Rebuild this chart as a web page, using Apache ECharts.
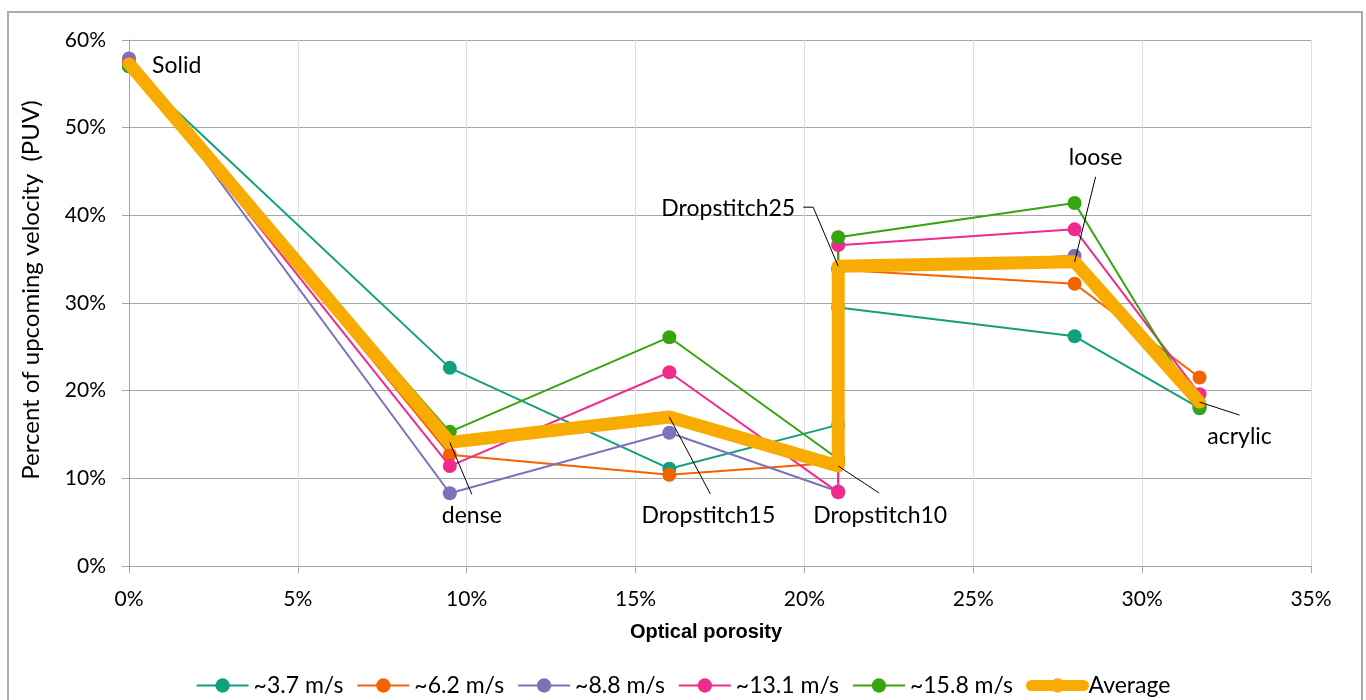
<!DOCTYPE html>
<html>
<head>
<meta charset="utf-8">
<script src="https://cdn.jsdelivr.net/npm/echarts@6.0.0/dist/echarts.min.js"></script>
<style>
  html, body { margin: 0; padding: 0; background: #fff; }
  #chart { width: 1366px; height: 700px; }
</style>
</head>
<body>
<div id="chart"></div>
<script>
// materials, in the order they are joined by each line
var materials = ['Solid', 'dense', 'Dropstitch15', 'Dropstitch10', 'Dropstitch25', 'loose', 'acrylic'];
// optical porosity (%)
var porosity = [0, 9.5, 16, 21, 21, 28, 31.7];

// percent of upcoming velocity (%) per wind speed
var puv37 = [57.0, 22.6, 11.1, 16.1, 29.5, 26.2, 18.0];
var puv62 = [57.4, 12.7, 10.4, 11.8, 33.8, 32.2, 21.5];
var puv88 = [57.9, 8.3, 15.2, 8.5, 34.0, 35.4, 18.4];
var puv131 = [57.3, 11.4, 22.1, 8.4, 36.6, 38.4, 19.6];
var puv158 = [57.0, 15.3, 26.1, 12.2, 37.5, 41.4, 18.1];
var puvAvg = [57.3, 14.1, 17.0, 11.4, 34.2, 34.7, 18.7];

var seriesNames = ['~3.7 m/s', '~6.2 m/s', '~8.8 m/s', '~13.1 m/s', '~15.8 m/s', 'Average'];
var xTicks = [0, 5, 10, 15, 20, 25, 30, 35];
var yTicks = [0, 10, 20, 30, 40, 50, 60];

var colors = ['#11a07d', '#f46300', '#7d72b9', '#f02b8c', '#35a40e', '#f8ab00'];
var font = 'Lato, "Open Sans", sans-serif';

function pairs(ys) {
  return ys.map(function (y, i) { return [porosity[i], y]; });
}

var chart = echarts.init(document.getElementById('chart'));

function speedSeries(name, ys, color) {
  return {
    name: name,
    type: 'line',
    data: pairs(ys),
    color: color,
    symbol: 'circle',
    symbolSize: 14,
    lineStyle: { width: 2, color: color },
    itemStyle: { color: color }
  };
}

var option = {
  animation: false,
  backgroundColor: '#fff',
  textStyle: { fontFamily: font },
  grid: { left: 129, right: 55, top: 40, bottom: 134, containLabel: false },
  xAxis: {
    type: 'value',
    min: xTicks[0],
    max: xTicks[xTicks.length - 1],
    interval: 5,
    name: 'Optical porosity',
    nameLocation: 'middle',
    nameGap: 56,
    nameTextStyle: {
      fontFamily: '"Liberation Sans", Arial, sans-serif',
      fontWeight: 'bold',
      fontSize: 20,
      color: '#000',
      padding: [0, 28, 0, 0]
    },
    axisLine: { show: true, lineStyle: { color: '#a6a6a6', width: 1 } },
    axisTick: { show: true, length: 7, lineStyle: { color: '#a6a6a6' } },
    axisLabel: { formatter: '{value}%', fontSize: 21, color: '#000', margin: 23 },
    splitLine: { show: true, lineStyle: { color: '#dedede', width: 1 } }
  },
  yAxis: {
    type: 'value',
    min: yTicks[0],
    max: yTicks[yTicks.length - 1],
    interval: 10,
    name: 'Percent of upcoming velocity  (PUV)',
    nameLocation: 'middle',
    nameGap: 86,
    nameTextStyle: { fontSize: 24, color: '#000', padding: [0, 0, 0, 26] },
    axisLine: { show: true, lineStyle: { color: '#a6a6a6', width: 1 } },
    axisTick: { show: true, length: 7, lineStyle: { color: '#a6a6a6' } },
    axisLabel: { formatter: '{value}%', fontSize: 21, color: '#000', margin: 23 },
    splitLine: { show: true, lineStyle: { color: '#a6a6a6', width: 1 } }
  },
  legend: {
    left: 'center',
    top: 669,
    itemWidth: 52,
    itemHeight: 18,
    itemGap: 13,
    textStyle: { fontSize: 23, color: '#000' },
    data: seriesNames.map(function (n, i) {
      return i === 5 ? { name: n, lineStyle: { width: 11, cap: 'round' } } : { name: n };
    })
  },
  series: [
    speedSeries(seriesNames[0], puv37, colors[0]),
    speedSeries(seriesNames[1], puv62, colors[1]),
    speedSeries(seriesNames[2], puv88, colors[2]),
    speedSeries(seriesNames[3], puv131, colors[3]),
    speedSeries(seriesNames[4], puv158, colors[4]),
    {
      name: seriesNames[5],
      type: 'line',
      data: pairs(puvAvg),
      color: colors[5],
      symbol: 'circle',
      symbolSize: 12,
      z: 5,
      lineStyle: { width: 13, color: colors[5], cap: 'round', join: 'round' },
      itemStyle: { color: colors[5] }
    }
  ]
};

chart.setOption(option);

// leader lines and labels, offsets in px from the average point
var notes = [
  { line: [], label: [23, 2], align: 'left' },
  { line: [[22, 52]], label: [22, 73], align: 'center' },
  { line: [[41, 77]], label: [39, 99], align: 'center' },
  { line: [[41, 27]], label: [42, 50], align: 'center' },
  { line: [[-25, -59], [-35, -59]], label: [-43, -58], align: 'right' },
  { line: [[21, -85]], label: [21, -104], align: 'center' },
  { line: [[40, 13]], label: [40, 35], align: 'center' }
];

var graphics = [{
  type: 'rect',
  shape: { x: 8, y: 12, width: 1354, height: 700 },
  style: { fill: 'none', stroke: '#ababab', lineWidth: 2 },
  silent: true,
  z: 0
}];

notes.forEach(function (n, i) {
  var p = chart.convertToPixel({ gridIndex: 0 }, [porosity[i], puvAvg[i]]);
  if (n.line.length) {
    var pts = [p].concat(n.line.map(function (o) { return [p[0] + o[0], p[1] + o[1]]; }));
    graphics.push({
      type: 'polyline',
      shape: { points: pts },
      style: { stroke: '#000', lineWidth: 1, fill: 'none' },
      z: 100
    });
  }
  graphics.push({
    type: 'text',
    x: p[0] + n.label[0],
    y: p[1] + n.label[1],
    style: {
      text: materials[i],
      fontFamily: font,
      fontSize: 23,
      fill: '#000',
      align: n.align,
      verticalAlign: 'middle'
    },
    z: 100
  });
});

chart.setOption({ graphic: graphics });
</script>
</body>
</html>
